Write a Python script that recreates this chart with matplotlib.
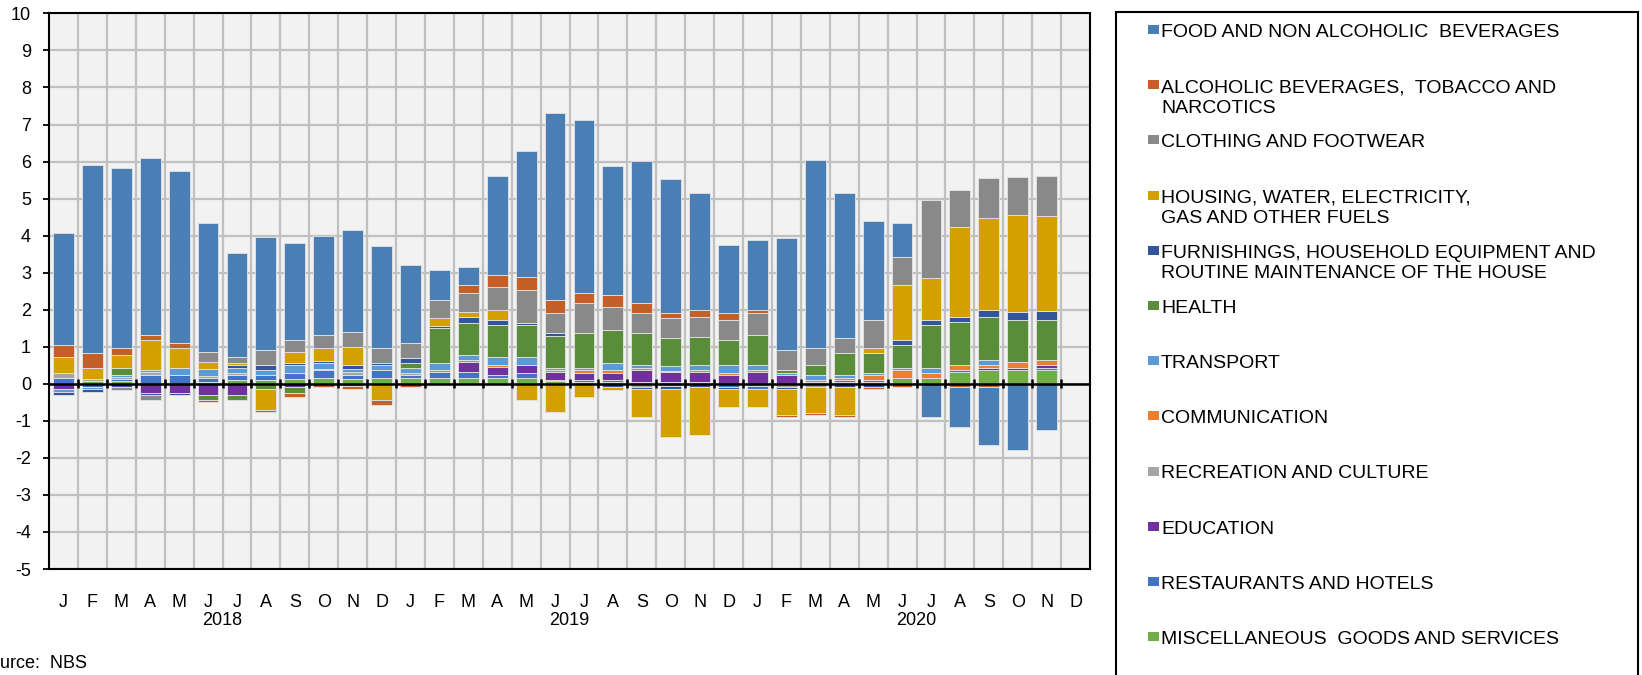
import numpy as np
import matplotlib.pyplot as plt
from matplotlib.patches import Rectangle
from matplotlib.transforms import blended_transform_factory

plt.rcParams['font.family'] = ['Liberation Sans', 'DejaVu Sans']
plt.rcParams['axes.unicode_minus'] = False

# contributions to y-o-y inflation, p.p. (Jan 2018 - Nov 2020)
months = ['J', 'F', 'M', 'A', 'M', 'J', 'J', 'A', 'S', 'O', 'N', 'D'] * 3
years = ['2018', '2019', '2020']

food = [3.02, 5.06, 4.85, 4.79, 4.65, 3.48, 2.80, 3.03, 2.61, 2.69, 2.75, 2.76,
        2.09, 0.79, 0.47, 2.69, 3.42, 5.05, 4.65, 3.49, 3.83, 3.63, 3.17, 1.82,
        1.89, 3.01, 5.06, 3.90, 2.67, 0.92, -0.90, -1.08, -1.55, -1.80, -1.24]
alc = [0.33, 0.40, 0.21, 0.13, 0.12, -0.06, 0, -0.05, -0.12, -0.09, -0.09, -0.13,
       -0.09, 0, 0.22, 0.32, 0.34, 0.34, 0.27, 0.33, 0.27, 0.14, 0.19, 0.20,
       0.06, -0.05, -0.05, -0.05, -0.06, -0.09, 0, -0.09, -0.09, 0, 0]
cloth = [0, 0, -0.07, -0.15, 0, 0.27, 0.15, 0.42, 0.34, 0.34, 0.41, 0.41,
         0.41, 0.49, 0.52, 0.61, 0.88, 0.54, 0.81, 0.61, 0.54, 0.54, 0.54, 0.54,
         0.60, 0.55, 0.48, 0.41, 0.75, 0.74, 2.10, 1.02, 1.08, 1.02, 1.08]
housing = [0.42, 0.32, 0.33, 0.80, 0.54, 0.21, 0.06, -0.57, 0.28, 0.35, 0.48, -0.44,
           0, 0.22, 0.14, 0.28, -0.43, -0.77, -0.35, -0.07, -0.75, -1.30, -1.28, -0.48,
           -0.48, -0.69, -0.69, -0.76, 0.14, 1.50, 1.13, 2.43, 2.50, 2.64, 2.56]
furn = [-0.08, -0.07, -0.09, -0.05, -0.07, 0, 0.07, 0.12, 0.05, 0.05, 0.12, 0.05,
        0.14, 0.05, 0.14, 0.13, 0.06, 0.07, 0, -0.09, -0.06, -0.07, -0.09, -0.06,
        0, -0.06, 0, -0.09, -0.09, 0.13, 0.13, 0.13, 0.19, 0.20, 0.25]
health = [0, 0, 0.21, 0, 0, -0.13, -0.13, -0.15, -0.15, 0, -0.06, 0,
          0.13, 0.95, 0.87, 0.87, 0.87, 0.87, 0.95, 0.88, 0.87, 0.74, 0.74, 0.67,
          0.80, 0.08, 0.27, 0.60, 0.55, 0.60, 1.15, 1.15, 1.14, 1.15, 1.08]
transport = [-0.07, -0.06, 0.05, 0.06, 0.21, 0.19, 0.14, 0.15, 0.22, 0.16, 0.07, 0.14,
             0.14, 0.18, 0.13, 0.21, 0.21, 0.05, 0.06, 0.20, 0.06, 0.14, 0.13, 0.22,
             0.14, 0.06, 0.14, 0.06, 0.06, 0.07, 0.14, 0, 0.14, 0, 0]
comm = [0, 0, 0, 0, 0, 0, 0, 0, 0, 0, 0, 0,
        0, 0.07, 0.07, 0.05, 0, 0.07, 0.07, 0.07, 0.07, 0, 0.07, 0.06,
        0.07, 0, 0.05, 0.06, 0.12, 0.20, 0.13, 0.14, 0.07, 0.14, 0.14]
recreation = [0.14, 0.05, 0.06, 0.08, 0, 0.03, 0.06, 0, 0, 0.04, 0.08, 0,
              0.06, 0, 0, 0, 0, 0, 0, 0, -0.09, 0.04, 0, 0,
              0, -0.09, -0.09, 0, 0, 0, 0, 0, 0, 0, 0]
education = [-0.15, 0, 0, -0.24, -0.24, -0.31, -0.30, 0, -0.09, 0, 0, 0,
             0, 0, 0.27, 0.22, 0.21, 0.20, 0.19, 0.19, 0.33, 0.25, 0.27, 0.23,
             0.31, 0.23, 0, 0, 0, 0, 0, 0, 0.07, 0.07, 0.06]
restaurants = [0.16, -0.09, 0.05, 0.24, 0.23, 0.12, 0.14, 0.14, 0.18, 0.21, 0.12, 0.21,
               0.07, 0.15, 0.15, 0.08, 0.14, 0.04, 0.05, 0.05, 0, 0.06, 0, -0.09,
               -0.09, 0, 0, 0.07, 0.06, 0, 0, 0.05, 0, 0, 0.07]
misc = [0, 0.07, 0.07, 0, 0, 0.05, 0.10, 0.09, 0.12, 0.16, 0.12, 0.16,
        0.16, 0.16, 0.16, 0.16, 0.16, 0.07, 0.06, 0.06, 0.04, -0.07, 0.04, 0,
        -0.06, 0, 0.04, 0.04, 0.05, 0.17, 0.17, 0.32, 0.37, 0.37, 0.37]

labels = ['FOOD AND NON ALCOHOLIC  BEVERAGES',
          'ALCOHOLIC BEVERAGES,  TOBACCO AND\nNARCOTICS',
          'CLOTHING AND FOOTWEAR',
          'HOUSING, WATER, ELECTRICITY,\nGAS AND OTHER FUELS',
          'FURNISHINGS, HOUSEHOLD EQUIPMENT AND\nROUTINE MAINTENANCE OF THE HOUSE',
          'HEALTH',
          'TRANSPORT',
          'COMMUNICATION',
          'RECREATION AND CULTURE',
          'EDUCATION',
          'RESTAURANTS AND HOTELS',
          'MISCELLANEOUS  GOODS AND SERVICES']
colors = ['#4a7fb5', '#c55f28', '#898989', '#d4a000', '#33559b', '#5a8d3a',
          '#5b9bd5', '#ed7d31', '#a5a5a5', '#7030a0', '#4472c4', '#70ad47']
series = [food, alc, cloth, housing, furn, health, transport, comm,
          recreation, education, restaurants, misc]

W, H = 1642, 675
fig = plt.figure(figsize=(W / 100, H / 100), dpi=100)
ax = fig.add_axes([49 / W, 1 - 569 / H, (1090 - 49) / W, (569 - 13.4) / H])
ax.set_facecolor('#f2f2f2')

x = np.arange(len(food))
pos = np.zeros(len(food))
neg = np.zeros(len(food))
# excel stacks the last series nearest to zero
for vals, col in zip(series[::-1], colors[::-1]):
    v = np.array(vals, dtype=float)
    up = v > 0
    dn = v < 0
    ax.bar(x[up], v[up], 0.72, bottom=pos[up], color=col,
           edgecolor='#e4e4e4', linewidth=0.6, zorder=3)
    ax.bar(x[dn], v[dn], 0.72, bottom=neg[dn], color=col,
           edgecolor='#e4e4e4', linewidth=0.6, zorder=3)
    pos[up] += v[up]
    neg[dn] += v[dn]

ax.set_xlim(-0.5, len(months) - 0.5)
ax.set_ylim(-5, 10)
ax.set_yticks(range(-5, 11))
ax.set_xticks(range(len(months)), months)
ax.set_xticks(np.arange(0.5, len(months) - 1, 1), minor=True)
ax.set_axisbelow(True)
ax.yaxis.grid(True, color='#c0c0c0', lw=1.6)
ax.xaxis.grid(True, which='minor', color='#c0c0c0', lw=1.6)
ax.tick_params(axis='x', which='both', length=0, pad=18, labelsize=13)
ax.tick_params(axis='y', length=4.3, width=1.3, pad=8.6, labelsize=13)
for s in ax.spines.values():
    s.set_color('black')
    s.set_linewidth(1.5)

# zero axis with category tick marks
ax.axhline(0, color='black', lw=1.8, zorder=4)
ax.vlines(np.arange(0.5, len(food), 1), -0.12, 0.12, color='black', lw=1.8, zorder=4)

tr = blended_transform_factory(ax.transData, ax.transAxes)
for k, yr in enumerate(years):
    ax.text(12 * k + 5.5, -0.092, yr, transform=tr, ha='center', va='center', fontsize=13)

fig.text(-22 / W, 1 - 663 / H, 'Source:  NBS', va='center', fontsize=13)

# legend box on the right
fig.add_artist(Rectangle((1116 / W, -0.05), (1638 - 1116) / W, (675 - 11.5) / H + 0.05,
                         transform=fig.transFigure, fill=False, ec='black', lw=1.5))
for i, (lab, col) in enumerate(zip(labels, colors)):
    yc = 31.4 + 55.2 * i
    fig.add_artist(Rectangle((1148 / W, 1 - (yc + 2.5) / H), 11 / W, 9 / H,
                             transform=fig.transFigure, fc=col, ec='none'))
    fig.text(1161 / W, 1 - (yc - 7.5) / H, lab, va='top', fontsize=14,
             linespacing=1.27)

fig.savefig('out.png', dpi=100)
